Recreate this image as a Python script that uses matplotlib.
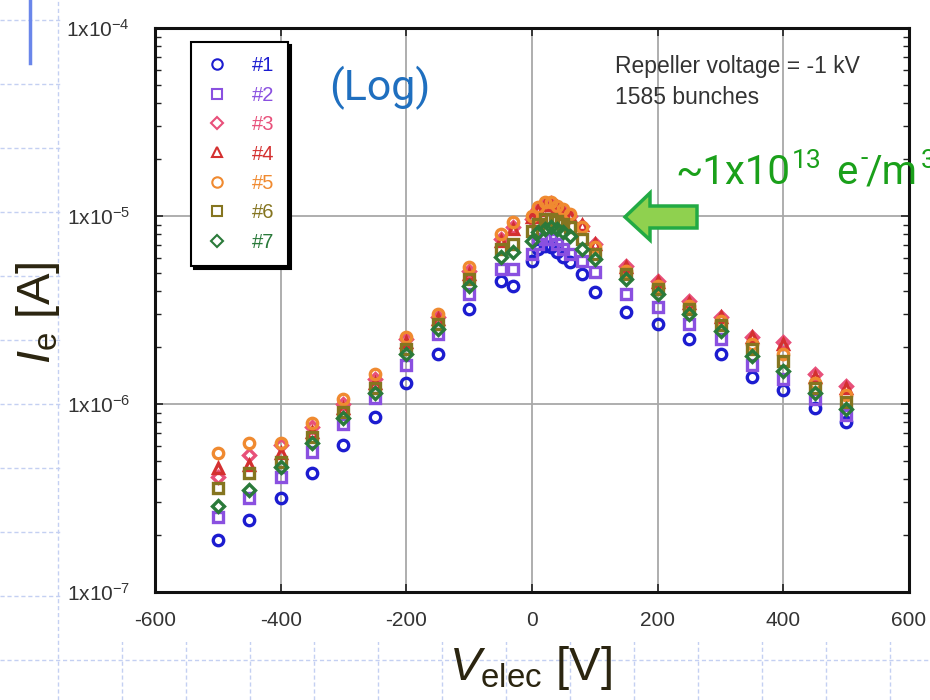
import numpy as np
import matplotlib
matplotlib.use("Agg")
import matplotlib.pyplot as plt
from matplotlib.lines import Line2D
from matplotlib.patches import Rectangle, Polygon
from matplotlib.ticker import NullFormatter, LogLocator
from matplotlib import font_manager

# electrode voltage [V]
volts = [-500, -450, -400, -350, -300, -250, -200, -150, -100, -50, -30,
         0, 10, 20, 30, 40, 50, 60, 80, 100,
         150, 200, 250, 300, 350, 400, 450, 500]

# electron current [A] for detectors #1..#7
ie1 = [1.89e-7, 2.42e-7, 3.17e-7, 4.3e-7, 6.08e-7, 8.58e-7, 1.30e-6, 1.84e-6, 3.19e-6, 4.50e-6, 4.24e-6,
       5.75e-6, 6.67e-6, 6.92e-6, 6.84e-6, 6.43e-6, 6.04e-6, 5.69e-6, 4.91e-6, 3.93e-6,
       3.08e-6, 2.65e-6, 2.21e-6, 1.84e-6, 1.40e-6, 1.19e-6, 9.58e-7, 8.07e-7]
ie2 = [2.5e-7, 3.17e-7, 4.1e-7, 5.58e-7, 7.78e-7, 1.08e-6, 1.62e-6, 2.35e-6, 3.84e-6, 5.21e-6, 5.2e-6,
       6.27e-6, 7.09e-6, 7.54e-6, 7.54e-6, 7.09e-6, 6.67e-6, 6.27e-6, 5.75e-6, 5.03e-6,
       3.84e-6, 3.27e-6, 2.65e-6, 2.21e-6, 1.62e-6, 1.35e-6, 1.06e-6, 8.79e-7]
ie3 = [4.1e-7, 5.38e-7, 6.08e-7, 7.5e-7, 9.94e-7, 1.35e-6, 2.21e-6, 2.89e-6, 5.09e-6, 7.54e-6, 8.74e-6,
       9.64e-6, 1.09e-5, 1.16e-5, 1.17e-5, 1.12e-5, 1.06e-5, 1.0e-5, 8.85e-6, 7.09e-6,
       5.41e-6, 4.50e-6, 3.52e-6, 2.89e-6, 2.26e-6, 2.13e-6, 1.44e-6, 1.24e-6]
ie4 = [4.59e-7, 4.76e-7, 5.5e-7, 7.13e-7, 9.58e-7, 1.30e-6, 2.15e-6, 2.82e-6, 4.91e-6, 7.36e-6, 8.53e-6,
       9.88e-6, 1.08e-5, 1.14e-5, 1.14e-5, 1.11e-5, 1.05e-5, 1.0e-5, 8.96e-6, 7.09e-6,
       5.35e-6, 4.45e-6, 3.45e-6, 2.89e-6, 2.26e-6, 2.08e-6, 1.40e-6, 1.22e-6]
ie5 = [5.51e-7, 6.23e-7, 6.2e-7, 7.96e-7, 1.06e-6, 1.44e-6, 2.26e-6, 3.0e-6, 5.35e-6, 8.02e-6, 9.29e-6,
       1.0e-5, 1.12e-5, 1.19e-5, 1.19e-5, 1.13e-5, 1.09e-5, 1.03e-5, 8.74e-6, 6.84e-6,
       5.09e-6, 4.24e-6, 3.31e-6, 2.75e-6, 2.08e-6, 1.84e-6, 1.30e-6, 1.12e-6]
ie6 = [3.59e-7, 4.31e-7, 4.94e-7, 6.71e-7, 9.12e-7, 1.22e-6, 1.95e-6, 2.65e-6, 4.61e-6, 6.67e-6, 7.09e-6,
       8.32e-6, 9.06e-6, 9.64e-6, 9.64e-6, 9.40e-6, 9.06e-6, 8.74e-6, 7.54e-6, 6.27e-6,
       4.91e-6, 4.08e-6, 3.19e-6, 2.62e-6, 1.95e-6, 1.69e-6, 1.22e-6, 1.03e-6]
ie7 = [2.88e-7, 3.50e-7, 4.6e-7, 6.2e-7, 8.47e-7, 1.15e-6, 1.84e-6, 2.50e-6, 4.24e-6, 6.04e-6, 6.43e-6,
       7.36e-6, 8.22e-6, 8.53e-6, 8.74e-6, 8.53e-6, 8.22e-6, 7.82e-6, 6.67e-6, 5.90e-6,
       4.61e-6, 3.84e-6, 3.0e-6, 2.44e-6, 1.79e-6, 1.49e-6, 1.15e-6, 9.35e-7]

series = [ie1, ie2, ie3, ie4, ie5, ie6, ie7]
labels = ["#1", "#2", "#3", "#4", "#5", "#6", "#7"]
colors = ["#1c1cd0", "#8a50e0", "#e8507a", "#d43030", "#f08a30", "#857520", "#2a7a3a"]
markers = ["o", "s", "D", "^", "o", "s", "D"]
msizes = [7.5, 7, 6, 7.5, 7.5, 7, 6]

xticks = [-600, -400, -200, 0, 200, 400, 600]
yticks = [1e-7, 1e-6, 1e-5, 1e-4]
ytick_labels = [r"1x10$^{-7}$", r"1x10$^{-6}$", r"1x10$^{-5}$", r"1x10$^{-4}$"]

names = {f.name for f in font_manager.fontManager.ttflist}
narrow = "Liberation Sans Narrow" if "Liberation Sans Narrow" in names else "Liberation Sans"

plt.rcParams["font.family"] = "Liberation Sans"
plt.rcParams["axes.unicode_minus"] = False
plt.rcParams["mathtext.fontset"] = "custom"
plt.rcParams["mathtext.rm"] = narrow
plt.rcParams["mathtext.it"] = narrow + ":italic"

W, H = 930.0, 700.0
def fx(px):
	return px / W
def fy(py):
	return 1 - py / H

fig = plt.figure(figsize=(9.3, 7), dpi=100)

# slide background: dashed grid + blue bar
grid_col = "#c4d0f2"
for gy in np.arange(20, 700, 64):
	fig.add_artist(Line2D([0, 1], [fy(gy), fy(gy)], transform=fig.transFigure,
	                      color=grid_col, lw=1, ls=(0, (3, 2)), zorder=-3))
for gx in np.arange(58, 930, 64):
	fig.add_artist(Line2D([fx(gx), fx(gx)], [0, 1], transform=fig.transFigure,
	                      color=grid_col, lw=1, ls=(0, (3, 2)), zorder=-3))
fig.add_artist(Line2D([fx(30), fx(30)], [fy(0), fy(63)], transform=fig.transFigure,
                      color="#6a86ea", lw=2.5, zorder=-2))
# pasted picture area
fig.add_artist(Rectangle((fx(63), fy(642)), 1 - fx(63), fy(0) - fy(642),
                         transform=fig.transFigure, facecolor="white", edgecolor="none", zorder=-1))

ax = fig.add_axes([fx(155), fy(592), fx(909) - fx(155), fy(28) - fy(592)])

for ys, lab, c, m, s in zip(series, labels, colors, markers, msizes):
	ax.plot(volts, ys, linestyle="none", marker=m, ms=s, mfc="none", mec=c, mew=2.4, label=lab)

ax.set_yscale("log")
ax.set_xlim(-600, 600)
ax.set_ylim(1e-7, 1e-4)
ax.set_xticks(xticks)
ax.set_yticks(yticks)
ax.set_yticklabels(ytick_labels)
ax.yaxis.set_minor_locator(LogLocator(base=10, subs=np.arange(2, 10)))
ax.yaxis.set_minor_formatter(NullFormatter())
ax.grid(True, which="major", color="#a8a8a8", lw=1.3)
ax.set_axisbelow(True)
ax.tick_params(which="both", direction="in", top=True, right=True, colors="#222222",
               labelcolor="#333333", labelsize=15)
ax.tick_params(which="major", length=6, width=1.2)
ax.tick_params(which="minor", length=4, width=1)
ax.tick_params(axis="y", pad=18)
ax.tick_params(axis="x", pad=14)
for sp in ax.spines.values():
	sp.set_linewidth(2.2)
	sp.set_color("#111111")

leg = ax.legend(loc="upper left", bbox_to_anchor=((191 - 155) / 754.0, (592 - 42) / 564.0),
                frameon=True, fancybox=False, shadow={"color": "black", "alpha": 1},
                fontsize=14.5, labelspacing=0.52, handlelength=1.2, handletextpad=1.1,
                borderpad=0.7, borderaxespad=0, edgecolor="black")
leg.get_frame().set_linewidth(1.5)
for txt, c in zip(leg.get_texts(), colors):
	txt.set_color(c)
for h in leg.legend_handles:
	h.set_markeredgewidth(1.5)

ax.text((615 - 155) / 754.0, (592 - 67) / 564.0, "Repeller voltage = -1 kV", transform=ax.transAxes,
        fontsize=16.5, color="#333333", va="center", ha="left")
ax.text((615 - 155) / 754.0, (592 - 98) / 564.0, "1585 bunches", transform=ax.transAxes,
        fontsize=16.5, color="#333333", va="center", ha="left")

# slide annotations
fig.text(fx(380), fy(88), "(Log)", fontsize=31, color="#1f6fbf", family="Roboto",
         ha="center", va="center")
green = "#1aa01a"
big, small = 29, 19
fig.text(fx(675), fy(184), "~1x10", fontsize=big, color=green, family="Roboto", va="baseline")
fig.text(fx(792), fy(168), "13", fontsize=small, color=green, family="Roboto", va="baseline")
fig.text(fx(836), fy(184), "e", fontsize=big, color=green, family="Roboto", va="baseline")
fig.text(fx(860), fy(166), "-", fontsize=small, color=green, family="Roboto", va="baseline")
fig.text(fx(866), fy(184), "/m", fontsize=big, color=green, family="Roboto", va="baseline")
fig.text(fx(921), fy(168), "3", fontsize=small, color=green, family="Roboto", va="baseline")
arrow_px = [(625, 217), (650, 193), (650, 206), (697, 206), (697, 228), (650, 228), (650, 240)]
fig.add_artist(Polygon([(fx(a), fy(b)) for a, b in arrow_px], closed=True, transform=fig.transFigure,
                       facecolor="#8fd14f", edgecolor="#22aa44", lw=2.5, zorder=5))

fig.text(fx(38), fy(313), r"$I_{\rm e}$ [A]", fontsize=34, color="#2b2510", family=narrow,
         rotation=90, ha="center", va="center")
fig.text(fx(530), fy(668), r"$V_{\rm elec}$ [V]", fontsize=34, color="#2b2510", family=narrow,
         ha="center", va="center")

fig.savefig("out.png", dpi=100)
